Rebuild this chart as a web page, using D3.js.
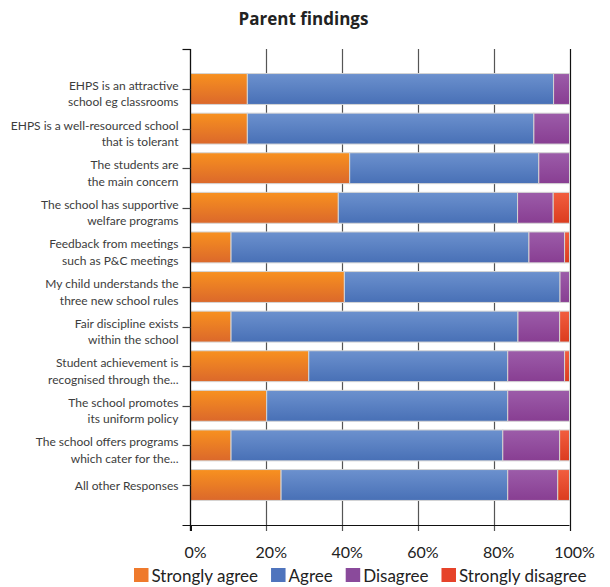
<!DOCTYPE html>
<html><head><meta charset="utf-8">
<script src="https://cdn.jsdelivr.net/npm/d3@7"></script>
<style>body{margin:0;background:#fff}svg{display:block}</style>
</head><body><svg id="c" width="610" height="587"></svg>
<script>
const categories = [
  ["EHPS is an attractive","school eg classrooms"],
  ["EHPS is a well-resourced school","that is tolerant"],
  ["The students are","the main concern"],
  ["The school has supportive","welfare programs"],
  ["Feedback from meetings","such as P&C meetings"],
  ["My child understands the","three new school rules"],
  ["Fair discipline exists","within the school"],
  ["Student achievement is","recognised through the..."],
  ["The school promotes","its uniform policy"],
  ["The school offers programs","which cater for the..."],
  ["All other Responses"]
];
const seriesNames = ["Strongly agree","Agree","Disagree","Strongly disagree"];
const stronglyAgree    = [15, 15, 42, 39, 10.7, 40.6, 10.7, 31.2, 20.1, 10.7, 23.9];
const agree            = [80.8, 75.6, 49.9, 47.3, 78.6, 56.9, 75.7, 52.5, 63.6, 71.7, 59.8];
const disagree         = [4.2, 9.4, 8.1, 9.4, 9.4, 2.5, 11.0, 15.0, 16.3, 15.0, 13.2];
const stronglyDisagree = [0, 0, 0, 4.3, 1.3, 0, 2.6, 1.3, 0, 2.6, 3.1];
const xTicks = [0, 20, 40, 60, 80, 100];
const xTickLabels = ["0%","20%","40%","60%","80%","100%"];
const title = "Parent findings";

const colors = {
  top:    ["#f8911f","#6c91ce","#9c5ca9","#f25e3f"],
  bottom: ["#db682b","#4870b6","#883e92","#db3c1f"],
  legend: ["#ef7a2c","#4f74bd","#8a4a9b","#e6432a"]
};

const svg = d3.select("#c");
const FONT = "Lato, 'Open Sans', sans-serif";
const m = {left:190.5, right:569.5, top:49, bottom:525};

const x = d3.scaleLinear().domain([0,100]).range([m.left, m.right]);
const keys = categories.map((c,i)=>i);
const y = d3.scaleBand().domain(keys).range([m.top, m.bottom]).paddingInner(0.22).paddingOuter(0.62);

const rows = keys.map(i => ({i, v:[stronglyAgree[i], agree[i], disagree[i], stronglyDisagree[i]]}));
const stack = d3.stack().keys([0,1,2,3]).value((d,k)=>d.v[k]);
const stacked = stack(rows);

const defs = svg.append("defs");
seriesNames.forEach((s,k)=>{
  const g = defs.append("linearGradient").attr("id","g"+k).attr("x1",0).attr("x2",0).attr("y1",0).attr("y2",1);
  g.append("stop").attr("offset","0%").attr("stop-color",colors.top[k]);
  g.append("stop").attr("offset","100%").attr("stop-color",colors.bottom[k]);
});

svg.append("g").selectAll("line").data(xTicks.slice(1)).join("line")
  .attr("x1",d=>Math.round(x(d))+0.5).attr("x2",d=>Math.round(x(d))+0.5)
  .attr("y1",m.top).attr("y2",m.bottom+6)
  .attr("stroke",d=>d===100?"#111":"#555").attr("stroke-width",1.2);

svg.append("g").selectAll("g").data(stacked).join("g")
  .attr("fill",(d,k)=>`url(#g${k})`)
  .selectAll("rect").data(d=>d.filter(e=>e[1]-e[0]>0)).join("rect")
  .attr("x",d=>x(d[0])).attr("width",d=>x(d[1])-x(d[0]))
  .attr("y",d=>y(d.data.i)).attr("height",y.bandwidth())
  .attr("stroke","#d4d4d4").attr("stroke-width",1);

const ax = svg.append("g");
ax.append("line").attr("x1",m.left).attr("x2",m.left).attr("y1",m.top).attr("y2",m.bottom+6).attr("stroke","#111").attr("stroke-width",1.3);
ax.append("line").attr("x1",m.left-8).attr("x2",m.left).attr("y1",m.top+0.5).attr("y2",m.top+0.5).attr("stroke","#111").attr("stroke-width",1.2);
ax.selectAll(".yt").data(keys).join("line").attr("class","yt")
  .attr("x1",m.left-8).attr("x2",m.left).attr("y1",d=>Math.round(y(d)+y.bandwidth()/2)+0.5).attr("y2",d=>Math.round(y(d)+y.bandwidth()/2)+0.5)
  .attr("stroke","#444").attr("stroke-width",1.2);
ax.append("line").attr("x1",m.left-8).attr("x2",m.right).attr("y1",m.bottom+0.5).attr("y2",m.bottom+0.5).attr("stroke","#111").attr("stroke-width",1.2);
ax.append("line").attr("x1",Math.round(x(0))+0.5).attr("x2",Math.round(x(0))+0.5).attr("y1",m.bottom).attr("y2",m.bottom+6).attr("stroke","#111");

const lab = svg.append("g").attr("font-family",FONT).attr("font-size",12).attr("fill","#3c3c3c").attr("text-anchor","end");
keys.forEach(i=>{
  const c = y(i)+y.bandwidth()/2;
  const lines = categories[i];
  const t = lab.append("text").attr("x",m.left-12);
  if(lines.length===1){
    t.append("tspan").attr("x",m.left-12).attr("y",c+5).text(lines[0]);
  } else {
    lines.forEach((l,j)=>t.append("tspan").attr("x",m.left-12).attr("y",c+1+j*16.5).text(l));
  }
});

svg.append("g").attr("font-family",FONT).attr("font-size",16).attr("fill","#222").attr("text-anchor","middle")
  .selectAll("text").data(xTicks).join("text")
  .attr("x",(d,i)=>x(d)+5).attr("y",m.bottom+33).text((d,i)=>xTickLabels[i]);

svg.append("text").attr("x",303.5).attr("y",25).attr("text-anchor","middle")
  .attr("font-family","'Open Sans', Lato, sans-serif").attr("font-weight","bold").attr("font-size",17).attr("fill","#222").text(title);

const lg = svg.append("g").attr("font-family",FONT).attr("font-size",17).attr("fill","#222");
let lx = 134;
seriesNames.forEach((s,k)=>{
  lg.append("rect").attr("x",lx).attr("y",568).attr("width",14.5).attr("height",14).attr("fill",colors.legend[k]);
  const t = lg.append("text").attr("x",lx+17.5).attr("y",582).text(s);
  lx += 17.5 + t.node().getComputedTextLength() + 13;
});
</script></body></html>
